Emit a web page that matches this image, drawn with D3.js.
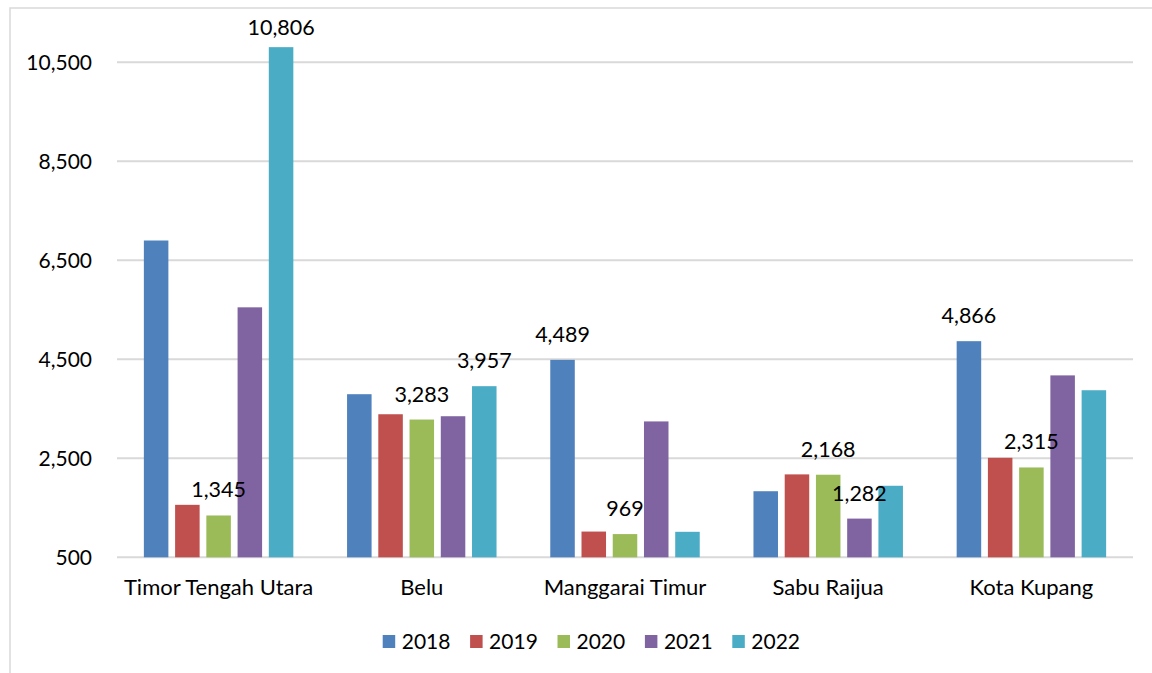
<!DOCTYPE html>
<html>
<head>
<meta charset="utf-8">
<script src="https://cdn.jsdelivr.net/npm/d3@7"></script>
<style>
  body { margin: 0; background: #fff; }
  text { font-family: Lato, "Open Sans", sans-serif; fill: #000; }
</style>
</head>
<body>
<div class="chart"></div>
<script>
var categories = ["Timor Tengah Utara", "Belu", "Manggarai Timur", "Sabu Raijua", "Kota Kupang"];
var years = ["2018", "2019", "2020", "2021", "2022"];
var colors = ["#4f81bd", "#c0504d", "#9bbb59", "#8064a2", "#4bacc6"];

// one array per year, in category order
var v2018 = [6900, 3795, 4489, 1835, 4866];
var v2019 = [1560, 3390, 1020, 2175, 2510];
var v2020 = [1345, 3283, 969, 2168, 2315];
var v2021 = [5550, 3350, 3245, 1282, 4175];
var v2022 = [10806, 3957, 1015, 1945, 3875];

// which bars carry a data label: [category index, year index]
var labelled = [[0, 4], [0, 2], [1, 2], [1, 4], [2, 0], [2, 2], [3, 2], [3, 3], [4, 0], [4, 2]];

var yTicks = [500, 2500, 4500, 6500, 8500, 10500];

var seriesValues = [v2018, v2019, v2020, v2021, v2022];

var width = 1152, height = 673;
var plot = { left: 117, right: 1133, top: 62.3, bottom: 557.3 };

var svg = d3.select(".chart").append("svg")
    .attr("width", width)
    .attr("height", height);

// outer chart border (clipped by the picture at right and bottom)
svg.append("rect")
    .attr("x", 10).attr("y", 8)
    .attr("width", 1200).attr("height", 700)
    .attr("fill", "none")
    .attr("stroke", "#d9d9d9")
    .attr("stroke-width", 1.5);

var x0 = d3.scaleBand()
    .domain(categories)
    .range([plot.left, plot.right]);

var x1 = d3.scaleBand()
    .domain(years)
    .range([0, x0.bandwidth()])
    .paddingInner(0.215)
    .paddingOuter(0.86);

var y = d3.scaleLinear()
    .domain([500, 10500])
    .range([plot.bottom, plot.top]);

var fmt = d3.format(",");

// gridlines
svg.append("g")
  .selectAll("line")
  .data(yTicks)
  .enter().append("line")
    .attr("x1", plot.left)
    .attr("x2", plot.right)
    .attr("y1", function(d) { return y(d); })
    .attr("y2", function(d) { return y(d); })
    .attr("stroke", "#d9d9d9")
    .attr("stroke-width", 2);

// y tick labels
svg.append("g")
  .selectAll("text")
  .data(yTicks)
  .enter().append("text")
    .attr("x", 92)
    .attr("y", function(d) { return y(d); })
    .attr("dy", "0.36em")
    .attr("text-anchor", "end")
    .style("font-size", "21px")
    .text(function(d) { return fmt(d); });

// bars
var groups = svg.append("g")
  .selectAll("g")
  .data(categories)
  .enter().append("g")
    .attr("transform", function(d) { return "translate(" + x0(d) + ",0)"; });

groups.selectAll("rect")
  .data(function(d, ci) {
    return years.map(function(yr, si) { return { year: yr, si: si, value: seriesValues[si][ci] }; });
  })
  .enter().append("rect")
    .attr("x", function(d) { return x1(d.year); })
    .attr("width", x1.bandwidth())
    .attr("y", function(d) { return y(d.value); })
    .attr("height", function(d) { return y(500) - y(d.value); })
    .attr("fill", function(d) { return colors[d.si]; });

// data labels (kept inside the chart at the top)
svg.append("g")
  .selectAll("text")
  .data(labelled)
  .enter().append("text")
    .attr("x", function(d) { return x0(categories[d[0]]) + x1(years[d[1]]) + x1.bandwidth() / 2; })
    .attr("y", function(d) { return Math.max(35, y(seriesValues[d[1]][d[0]]) - 18); })
    .attr("text-anchor", "middle")
    .style("font-size", "21.5px")
    .text(function(d) { return fmt(seriesValues[d[1]][d[0]]); });

// category labels
svg.append("g")
  .selectAll("text")
  .data(categories)
  .enter().append("text")
    .attr("x", function(d) { return x0(d) + x0.bandwidth() / 2; })
    .attr("y", 595)
    .attr("text-anchor", "middle")
    .style("font-size", "22px")
    .text(function(d) { return d; });

// legend
var legend = svg.append("g")
  .selectAll("g")
  .data(years)
  .enter().append("g")
    .attr("transform", function(d, i) { return "translate(" + (382.7 + i * 87.4) + ",635)"; });

legend.append("rect")
    .attr("width", 12.5)
    .attr("height", 13)
    .attr("fill", function(d, i) { return colors[i]; });

legend.append("text")
    .attr("x", 19)
    .attr("y", 13.5)
    .style("font-size", "21px")
    .text(function(d) { return d; });
</script>
</body>
</html>
